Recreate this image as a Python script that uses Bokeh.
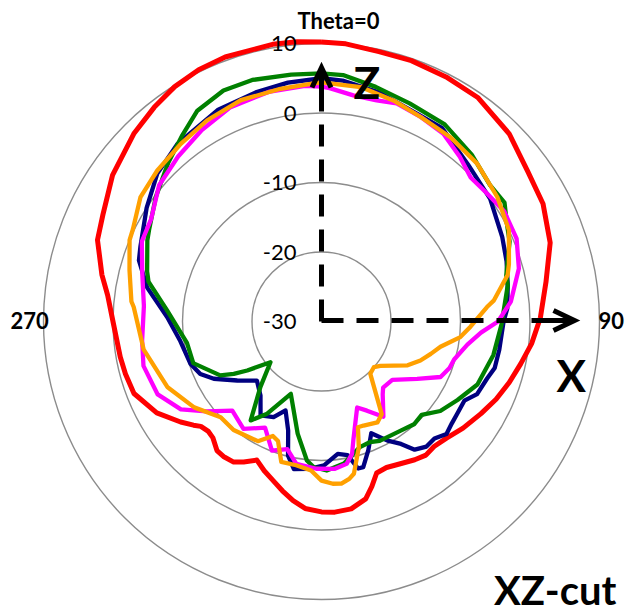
import numpy as np
from bokeh.plotting import figure
from bokeh.models import Range1d
from bokeh.embed import file_html
from bokeh.resources import INLINE
from bokeh.core.properties import value

# ---------------- data (theta in degrees clockwise from Z, gain in dB) ----------------
db_min = -30
db_max = 10
ring_levels = [-20, -10, 0, 10]
ring_labels = ["-30", "-20", "-10", "0", "10"]

red_theta = [0, 5, 12, 19, 27, 35, 45, 54, 62, 71, 80, 89, 96, 102, 108, 114, 120, 127, 133, 138,
             142, 146, 151, 156, 160, 163, 166, 171, 176, 180, 185, 189, 193, 197, 201, 205, 209, 212, 216, 219,
             223, 226, 229, 231, 234.5, 241, 249, 255, 260, 269, 277, 282, 290, 296, 305, 315, 322, 328, 334, 340,
             350, 355]
red_db = [10.2, 10.1, 9.7, 9.7, 9.5, 9.3, 8.2, 6.7, 6.1, 4.8, 2.8, 1.5, 0.4, -0.7, -1.6, -2.5, -3.5, -4.5, -5.4, -5.8,
          -5.6, -6.0, -6.6, -7.0, -6.8, -5.2, -3.7, -2.7, -2.5, -2.6, -3.0, -3.9, -5.0, -6.1, -7.0, -8.0, -6.9, -6.15, -6.0, -6.1,
          -7.1, -7.3, -7.0, -6.3, -5.1, -2.9, -1.1, -0.8, -0.6, -0.1, 1.0, 2.3, 4.3, 5.0, 6.7, 8.2, 9.1, 9.85, 10.3, 10.5,
          10.5, 10.4]

navy_theta = [0, 5, 14, 23, 32, 43, 54, 65, 72, 79, 86, 90, 99, 105, 109, 115, 119, 124, 128, 132,
              136, 140, 144, 147, 151, 156, 160, 164, 166, 169, 173, 179, 185, 190.6, 194, 197, 202, 206.6, 213, 219.5,
              227.5, 235, 242, 246.6, 252, 262, 271.6, 281, 288.5, 292.5, 303, 312, 321, 334, 344, 352]
navy_db = [5.0, 4.8, 4.0, 3.0, 2.8, 0.9, 0.0, -1.3, -2.0, -2.7, -3.2, -3.8, -4.1, -4.2, -4.8, -5.3, -6.5, -6.4, -6.2, -5.8,
           -6.6, -6.5, -7.2, -9.0, -10.4, -12.4, -10.3, -8.2, -8.2, -10.4, -10.8, -9.3, -8.7, -8.4, -10.1, -13.6, -16.2, -14.6, -13.9, -16.2,
           -17.4, -15.2, -12.45, -11.0, -10.2, -9.5, -7.8, -4.45, -2.3, -1.8, 0.0, 1.8, 2.9, 3.9, 4.3, 4.7]

green_theta = [0, 5, 13, 22, 32, 42, 51, 57, 62, 67, 76, 79, 91, 101, 112, 120, 127, 133, 138, 144,
               154, 158, 163, 171, 178, 183, 186, 192, 203, 210.5, 215.6, 223, 231.4, 236.6, 239.2, 242, 252, 261, 274, 283,
               286, 295, 298, 307, 316, 323, 329.5, 337, 344, 353]
green_db = [5.7, 5.6, 4.65, 3.85, 3.45, 2.3, 1.2, 1.4, 0.2, -0.6, -2.6, -2.7, -4.1, -4.8, -5.8, -7.4, -8.6, -10.3, -10.1, -10.6,
            -10.9, -11.3, -11.1, -9.3, -8.55, -9.0, -9.9, -13.5, -18.7, -14.6, -12.5, -17.1, -20.6, -17.2, -15.3, -13.5, -10.6, -10.4, -7.75, -4.45,
            -3.9, -2.35, -1.9, -0.16, 1.75, 3.4, 5.2, 6.1, 6.15, 5.8]

magenta_theta = [0, 2, 8, 14, 19, 26, 33, 40, 46, 52, 59, 67, 75, 84, 90, 94, 99, 106, 110, 115,
                 121, 129.5, 137, 140, 147, 153, 157.5, 165, 167, 170, 175, 182, 190, 195, 201, 208, 216, 225, 232, 238,
                 246, 256, 264, 275, 285, 294, 301, 310, 319, 328, 337, 347, 356]
magenta_db = [3.8, 3.6, 2.85, 2.8, 3.2, 2.7, 2.2, 0.96, -0.16, 0.1, 0.7, 0.5, -0.6, -2.6, -4.6, -7.0, -8.75, -10.15, -10.4, -11.1,
              -13.95, -16.8, -17.0, -16.3, -13.65, -15.6, -16.6, -12.3, -10.45, -9.2, -8.7, -8.8, -9.2, -11.0, -10.1, -12.7, -10.9, -11.85, -9.0, -6.15,
              -4.2, -3.6, -4.05, -4.35, -3.3, -1.7, -1.4, 0.5, 1.45, 2.5, 3.5, 3.9, 4.0]

orange_theta = [0, 9.5, 18, 26, 35, 44.6, 54.7, 64, 73, 76, 83, 85, 92, 96.4, 102, 106.5, 111.5, 117, 127, 131,
                137, 147, 151, 158, 161, 163.5, 168, 170, 173, 176, 180, 184, 190, 196, 200, 203, 208, 219, 226.5, 236,
                247, 261, 274.4, 276, 285, 293, 296, 304.5, 312.6, 321.6, 330.4, 340, 350, 357]
orange_db = [4.4, 4.2, 3.45, 2.7, 2.35, 1.9, 1.0, 0.0, -1.8, -2.4, -5.0, -6.1, -8.55, -9.9, -12.5, -13.6, -14.7, -16.1, -19.4, -20.0,
             -19.7, -14.1, -13.4, -13.85, -13.9, -11.1, -7.6, -7.0, -6.5, -6.6, -7.1, -8.5, -9.0, -9.0, -11.7, -12.1, -10.5, -9.9, -10.0, -7.9,
             -5.9, -4.1, -2.9, -2.5, -1.4, 0.0, 0.2, 1.6, 2.1, 2.6, 3.3, 3.9, 4.0, 4.2]

series = [
    (red_theta, red_db, "#FF0000", 5.0),
    (navy_theta, navy_db, "#000080", 4.3),
    (green_theta, green_db, "#008000", 4.3),
    (magenta_theta, magenta_db, "#FF00FF", 4.3),
    (orange_theta, orange_db, "#FFA000", 4.3),
]

# ---------------- geometry ----------------
R_OUT = 278.0                      # radius of the outer (10 dB) ring, in plot units (= pixels)
SCALE = R_OUT / (db_max - db_min)  # pixels per dB
W, H = 626, 614
CX, CY = 321, 321                  # pole position, pixels from the top-left corner


def radius(db):
    return (np.asarray(db, dtype=float) - db_min) * SCALE


def to_xy(theta, db):
    t = np.radians(np.asarray(theta, dtype=float))
    r = radius(db)
    x = r * np.sin(t)
    y = r * np.cos(t)
    return np.append(x, x[0]), np.append(y, y[0])


p = figure(width=W, height=H, x_range=Range1d(-CX, W - CX), y_range=Range1d(CY - H, CY),
           output_backend="svg", toolbar_location=None, x_axis_type=None, y_axis_type=None,
           min_border=0)
p.grid.visible = False
p.outline_line_color = None
p.background_fill_color = "white"
p.border_fill_color = "white"

# rings
ring_r = list(radius(ring_levels))
p.circle(x=[0] * len(ring_r), y=[0] * len(ring_r), radius=ring_r,
         fill_color=None, line_color="#8C8C8C", line_width=1.4)

# curves
for th, db, col, lw in series:
    xs, ys = to_xy(th, db)
    p.line(xs, ys, line_color=col, line_width=lw, line_join="round")

# ring labels
label_y = [0.0] + ring_r
p.text(x=[-25] * len(label_y), y=label_y, text=ring_labels, text_align="right",
       text_baseline="middle", text_font=value("Lato"), text_font_size="22px", text_color="black")

# axis arrows (Z up, X right)
z_tip = 254
x_tip = 253
p.line([0, 0], [0, 220], line_color="black", line_width=5, line_dash="22 13")
p.line([0, 0], [217, z_tip], line_color="black", line_width=5)
p.line([-9.5, 0, 9.5], [z_tip - 20, z_tip, z_tip - 20], line_color="black", line_width=5, line_join="miter")
p.line([0, 217], [1, 1], line_color="black", line_width=5, line_dash="22 13")
p.line([215, x_tip], [1, 1], line_color="black", line_width=5)
p.line([x_tip - 21, x_tip, x_tip - 21], [11, 1, -9], line_color="black", line_width=5, line_join="miter")

bold = dict(text_font=value("Lato"), text_font_style="bold", text_color="black", text_baseline="middle")
p.text(x=[17], y=[301], text=["Theta=0"], text_align="center", text_font_size="22px", **bold)
p.text(x=[-311], y=[1], text=["270"], text_align="left", text_font_size="22px", **bold)
p.text(x=[277], y=[1], text=["90"], text_align="left", text_font_size="22px", **bold)
p.text(x=[32], y=[240], text=["Z"], text_align="left", text_font_size="44px", **bold)
p.text(x=[235], y=[-53], text=["X"], text_align="left", text_font_size="44px", **bold)
p.text(x=[295], y=[-268], text=["XZ-cut"], text_align="right", text_font_size="40px", **bold)

open("out.html", "w").write(file_html(p, INLINE))
